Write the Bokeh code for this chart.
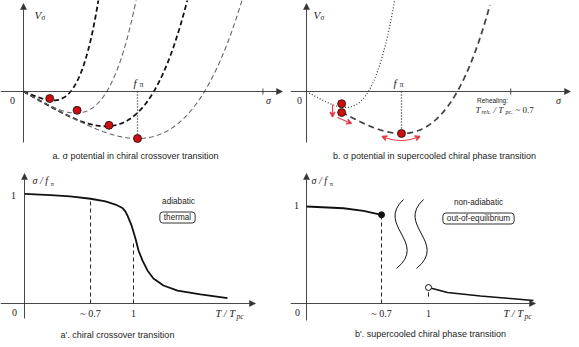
import numpy as np
from bokeh.plotting import figure
from bokeh.models import Range1d, Arrow, NormalHead, VeeHead, Label
from bokeh.layouts import column, row
from bokeh.embed import file_html
from bokeh.resources import INLINE

# ---------------- data ----------------
# panel a: sigma potential, crossover (minimum position in units of f_pi, depth in units of V_min(T=0))
a_sigma_min = [0.26, 0.46, 0.72, 1.0]
a_depth = [0.19, 0.46, 0.74, 1.0]
a_dot_sigma = [0.23, 0.47, 0.75, 1.0]
a_dot_V = [-0.15, -0.40, -0.72, -1.0]
a_sigma_tick = 2.1

# panel b: supercooled (false vacuum dotted, true vacuum dashed)
b_false_sigma_min = 0.41
b_false_depth = 0.38
b_true_sigma_min = 1.0
b_true_depth = 1.0
b_dot_sigma = [0.37, 0.37, 1.0]
b_dot_V = [-0.29, -0.50, -1.0]
b_sigma_tick = 2.15

# panel a': sigma/f_pi vs T/T_pc, crossover
ap_T = [0.0, 0.24, 0.42, 0.606, 0.743, 0.835, 0.862, 0.899, 0.925, 0.945, 0.982, 1.018,
        1.046, 1.083, 1.128, 1.183, 1.275, 1.404, 1.615, 1.862]
ap_sigma = [1.005, 0.995, 0.982, 0.961, 0.936, 0.908, 0.895, 0.876, 0.846, 0.807, 0.716, 0.596,
            0.486, 0.394, 0.303, 0.229, 0.165, 0.119, 0.083, 0.05]
ap_ticks = [0.606, 1.0]
ap_tick_labels = ["~ 0.7", "1"]
ap_guide_top = [0.961, 0.578]

# panel b': supercooled
bp_T_low = [0.0, 0.303, 0.467, 0.615]
bp_sigma_low = [0.99, 0.972, 0.946, 0.905]
bp_T_high = [1.0, 1.156, 1.426, 1.672, 1.86]
bp_sigma_high = [0.163, 0.112, 0.077, 0.05, 0.03]
bp_ticks = [0.615, 1.0]
bp_tick_labels = ["~ 0.7", "1"]

SANS = "Liberation Sans"
SERIF = "Liberation Serif"
INK = "#222222"
RED_DOT = "#cc1010"
RED_ARROW = "#e8404a"


def make_panel(left, top, w, h, ox, oy, ux, uy):
    xr = Range1d((left - ox) / ux, (left + w - ox) / ux)
    yr = Range1d((oy - (top + h)) / uy, (oy - top) / uy)
    p = figure(width=w, height=h, x_range=xr, y_range=yr, toolbar_location=None,
               output_backend="svg", x_axis_location=None, y_axis_location=None,
               min_border=0, outline_line_color=None)
    p.grid.visible = False
    X = lambda px: (px - ox) / ux
    Y = lambda py: (oy - py) / uy
    return p, X, Y


def txt(p, x, y, s, size, font=SANS, style="normal", align="center", color=INK):
    p.add_layout(Label(x=x, y=y, text=s, text_font=font, text_font_size=f"{size}px",
                       text_font_style=style, text_align=align, text_baseline="middle",
                       text_color=color))


def boxed(p, x, y, s, size):
    p.add_layout(Label(x=x, y=y, text=s, text_font=SANS, text_font_size=f"{size}px",
                       text_align="center", text_baseline="middle", text_color=INK,
                       border_line_color="#333333", border_line_width=1,
                       background_fill_color="white", border_radius=3, padding=(4, 1)))


def axes(p, X, Y, x0, x1, y0, y1):
    for xs, ys, xe, ye in [(X(x0), 0, X(x1), 0), (0, Y(y0), 0, Y(y1))]:
        p.add_layout(Arrow(x_start=xs, y_start=ys, x_end=xe, y_end=ye,
                           line_color="#333333", line_width=0.9,
                           end=NormalHead(size=6, fill_color="#333333",
                                          line_color="#333333", line_width=0.5)))


def potential(sig, sm, d):
    s = sig / sm
    return d / 3.0 * (s ** 4 - 4.0 * s)


# ---------------- panel a ----------------
pa, X, Y = make_panel(0, 0, 290, 170, 23, 91, 114, 47)
axes(pa, X, Y, 0, 282, 142, 3)
pa.segment(x0=[a_sigma_tick], y0=[3 / 47], x1=[a_sigma_tick], y1=[-3 / 47],
           line_color="#333333", line_width=0.9)
styles = [("#111111", 1.8), ("#666666", 1.1), ("#111111", 1.8), ("#666666", 1.1)]
for sm, d, (c, lw) in zip(a_sigma_min, a_depth, styles):
    sg = np.linspace(0, 2.6 * sm, 300)
    v = potential(sg, sm, d)
    keep = v < 2.0
    pa.line(sg[keep], v[keep], line_color=c, line_width=lw, line_dash="5 3")
pa.segment(x0=[a_sigma_min[-1]], y0=[0], x1=[a_sigma_min[-1]], y1=[-a_depth[-1]],
           line_color="#111111", line_width=1.3, line_dash="1 2")
pa.scatter(a_dot_sigma, a_dot_V, size=8, fill_color=RED_DOT, line_color="#111111",
           line_width=0.8)
txt(pa, X(34), Y(14), "V", 11, SERIF, "italic", "left")
txt(pa, X(41), Y(17), "σ", 7.5, SERIF, "italic", "left")
txt(pa, X(12), Y(100), "0", 10, SERIF)
txt(pa, X(268), Y(100), "σ", 10, SERIF, "italic")
txt(pa, X(133), Y(82), "f", 11, SERIF, "italic", "left")
txt(pa, X(139), Y(84), "π", 8, SERIF, "normal", "left")
txt(pa, X(135), Y(155), "a. σ potential in chiral crossover transition", 9)

# ---------------- panel b ----------------
pb, X, Y = make_panel(290, 0, 289, 170, 306, 91, 95, 42)
axes(pb, X, Y, 290, 570, 142, 3)
pb.segment(x0=[b_sigma_tick], y0=[3 / 42], x1=[b_sigma_tick], y1=[-3 / 42],
           line_color="#333333", line_width=0.9)
sg = np.linspace(0, 2.5 * b_false_sigma_min, 300)
v = potential(sg, b_false_sigma_min, b_false_depth)
keep = v < 2.3
pb.line(sg[keep], v[keep], line_color="#333333", line_width=1.2, line_dash="1 2")
sg = np.linspace(b_dot_sigma[0], 2.2 * b_true_sigma_min, 300)
v = potential(sg, b_true_sigma_min, b_true_depth)
keep = v < 2.1
pb.line(sg[keep], v[keep], line_color="#444444", line_width=1.8, line_dash="6 4")
pb.segment(x0=[b_true_sigma_min], y0=[0], x1=[b_true_sigma_min], y1=[-b_true_depth],
           line_color="#111111", line_width=1.3, line_dash="1 2")
# red arrows
pb.add_layout(Arrow(x_start=X(332), y_start=Y(104), x_end=X(332), y_end=Y(116.5),
                    line_color=RED_ARROW, line_width=1.2,
                    end=VeeHead(size=5, line_color=RED_ARROW, line_width=1.2)))
pb.add_layout(Arrow(x_start=X(337), y_start=Y(117), x_end=X(351), y_end=Y(123),
                    line_color=RED_ARROW, line_width=1.2,
                    end=VeeHead(size=5, line_color=RED_ARROW, line_width=1.2)))
pb.quadratic(x0=[X(382)], y0=[Y(136)], x1=[X(419)], y1=[Y(136)], cx=[X(400.5)], cy=[Y(144)],
             line_color=RED_ARROW, line_width=1.2)
pb.add_layout(Arrow(x_start=X(415.3), y_start=Y(137.6), x_end=X(419.5), y_end=Y(135.8),
                    line_color=RED_ARROW, line_width=1.2,
                    end=VeeHead(size=5, line_color=RED_ARROW, line_width=1.2)))
pb.add_layout(Arrow(x_start=X(385.7), y_start=Y(137.6), x_end=X(381.5), y_end=Y(135.8),
                    line_color=RED_ARROW, line_width=1.2,
                    end=VeeHead(size=5, line_color=RED_ARROW, line_width=1.2)))
pb.scatter(b_dot_sigma, b_dot_V, size=8, fill_color=RED_DOT, line_color="#111111",
           line_width=0.8)
txt(pb, X(313), Y(14), "V", 11, SERIF, "italic", "left")
txt(pb, X(320), Y(17), "σ", 7.5, SERIF, "italic", "left")
txt(pb, X(299), Y(100), "0", 10, SERIF)
txt(pb, X(558), Y(100), "σ", 10, SERIF, "italic")
txt(pb, X(393), Y(82), "f", 11, SERIF, "italic", "left")
txt(pb, X(399), Y(84), "π", 8, SERIF, "normal", "left")
txt(pb, X(492), Y(100), "Rehealing:", 6.5)
txt(pb, X(475), Y(109), "T", 9, SERIF, "italic", "left")
txt(pb, X(481), Y(111), "reh.", 6, SERIF, "italic", "left")
txt(pb, X(493), Y(109), "/ T", 9, SERIF, "italic", "left")
txt(pb, X(505), Y(111), "pc.", 6, SERIF, "italic", "left")
txt(pb, X(515), Y(109), "~ 0.7", 9, SERIF, "normal", "left")
txt(pb, X(434), Y(155), "b. σ potential in supercooled chiral phase transition", 9)

# ---------------- panel a' ----------------
pc, X, Y = make_panel(0, 170, 290, 177, 24, 303, 109, 109)
axes(pc, X, Y, 0, 255, 318, 173)
pc.segment(x0=ap_ticks, y0=[0, 0], x1=ap_ticks, y1=ap_guide_top, line_color="#222222",
           line_width=1.0, line_dash="4 3")
pc.line(ap_T, ap_sigma, line_color="#111111", line_width=1.8)
txt(pc, X(32), Y(180), "σ / f", 10, SERIF, "italic", "left")
txt(pc, X(50), Y(183), "π", 7, SERIF, "normal", "left")
txt(pc, X(13), Y(195), "1", 10, SERIF)
txt(pc, X(14), Y(312), "0", 10, SERIF)
for t, lab in zip(ap_ticks, ap_tick_labels):
    txt(pc, t, Y(313), lab, 10, SERIF)
txt(pc, X(215), Y(313), "T / T", 10.5, SERIF, "italic", "left")
txt(pc, X(236), Y(316), "pc", 7.5, SERIF, "italic", "left")
txt(pc, X(178), Y(201), "adiabatic", 8.2)
boxed(pc, X(177), Y(217), "thermal", 8.2)
txt(pc, X(117), Y(334), "a'. chiral crossover transition", 9)

# ---------------- panel b' ----------------
pd, X, Y = make_panel(290, 170, 289, 177, 306, 303, 122, 98)
axes(pd, X, Y, 290, 535, 320, 173)
pd.segment(x0=[bp_ticks[0]], y0=[0], x1=[bp_ticks[0]], y1=[bp_sigma_low[-1]],
           line_color="#222222", line_width=1.0, line_dash="4 3")
pd.segment(x0=[bp_ticks[1]], y0=[0.07], x1=[bp_ticks[1]], y1=[0.115],
           line_color="#222222", line_width=1.0)
pd.line(bp_T_low, bp_sigma_low, line_color="#111111", line_width=1.8)
pd.line(bp_T_high, bp_sigma_high, line_color="#111111", line_width=1.5)
pd.scatter([bp_T_low[-1]], [bp_sigma_low[-1]], size=6, fill_color="#111111",
           line_color="#111111")
pd.scatter([bp_T_high[0]], [bp_sigma_high[0]], size=6, fill_color="white",
           line_color="#111111", line_width=1)
for dx in (0, 20):
    pd.bezier(x0=[X(403 + dx)], y0=[Y(199)], x1=[X(396 + dx)], y1=[Y(268)],
              cx0=[X(375 + dx)], cy0=[Y(225)], cx1=[X(428 + dx)], cy1=[Y(242)],
              line_color="#111111", line_width=1.0)
txt(pd, X(311), Y(180), "σ / f", 10, SERIF, "italic", "left")
txt(pd, X(329), Y(183), "π", 7, SERIF, "normal", "left")
txt(pd, X(296), Y(205), "1", 10, SERIF)
txt(pd, X(297), Y(312), "0", 10, SERIF)
for t, lab in zip(bp_ticks, bp_tick_labels):
    txt(pd, t, Y(313), lab, 10, SERIF)
txt(pd, X(503), Y(313), "T / T", 10.5, SERIF, "italic", "left")
txt(pd, X(524), Y(316), "pc", 7.5, SERIF, "italic", "left")
txt(pd, X(478), Y(202), "non-adiabatic", 8.2)
boxed(pd, X(478), Y(218), "out-of-equilibrium", 8.2)
txt(pd, X(430), Y(333), "b'. supercooled chiral phase transition", 9)

layout = column(row(pa, pb), row(pc, pd))
open("out.html", "w").write(file_html(layout, INLINE))
